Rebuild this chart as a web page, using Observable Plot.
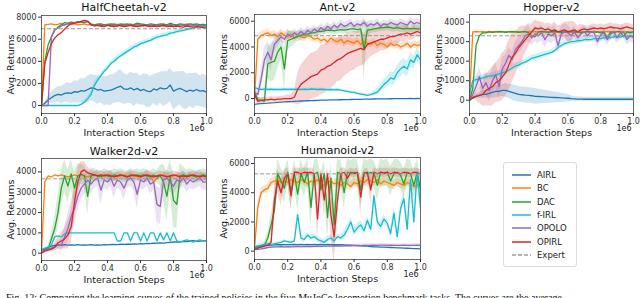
<!DOCTYPE html>
<html><head><meta charset="utf-8">
<script src="https://cdn.jsdelivr.net/npm/d3@7"></script>
<script src="https://cdn.jsdelivr.net/npm/@observablehq/plot@0.6"></script>
<style>
body{margin:0;background:#fff;}
#root{position:relative;width:640px;height:298px;overflow:hidden;background:#fff;font-family:"DejaVu Sans",sans-serif;}
.cell{position:absolute;}
.cell svg{overflow:visible;}
#legend{position:absolute;left:503px;top:162px;width:74px;height:105px;border:1px solid #dcdcdc;border-radius:3px;box-sizing:border-box;background:#fff;}
.li{position:absolute;left:0;height:12px;font-size:8.5px;color:#222;line-height:12px;}
.li svg{position:absolute;left:7px;top:0;}
.li span{position:absolute;left:33px;top:0;white-space:nowrap;}
#caption{position:absolute;left:6px;top:292px;font-family:"Liberation Serif",serif;font-size:10px;line-height:12px;white-space:nowrap;color:#111;}
</style>
</head><body>
<div id="root">
<div id="legend"></div>
<div id="caption">Fig. 12: Comparing the learning curves of the trained policies in the five MuJoCo locomotion benchmark tasks. The curves are the average</div>
</div>
<script>
const methods = ["AIRL","BC","DAC","f-IRL","OPOLO","OPIRL"];
const colors = ["#1f77b4","#ff7f0e","#2ca02c","#17becf","#9467bd","#d62728"];
const envNames = ["HalfCheetah-v2","Ant-v2","Hopper-v2","Walker2d-v2","Humanoid-v2"];
const expertReturns = [6950, 4880, 3300, 3660, 5290];
const xTicks = [0,0.2,0.4,0.6,0.8,1.0];
const yTicksHC = [0,2000,4000,6000,8000];
const yTicksAnt = [0,2000,4000,6000];
const yTicksHop = [0,1000,2000,3000,4000];
const yTicksWk = [0,1000,2000,3000,4000];
const yTicksHu = [0,2000,4000,6000];

// HalfCheetah
const hc_AIRL = [0,200,500,700,900,1000,950,1100,1150,1100, 1250,1200,1350,1300,1450,1600,1550,1400,1450,1300, 1350,1400,1500,1650,1750,1500,1450,1600,1400,1550, 1350,1450,1300,1250,1500,1400,1600,1500,1550,1850, 1300,1450,1550,1400,1250,1400,1300,1450,1300,1350, 1200];
const hc_AIRL_sd = [0,100,300,500,600,700,800,800,900,900, 1000,1000,1100,1100,1200,1200,1200,1300,1200,1300, 1300,1400,1300,1400,1500,1400,1300,1400,1500,1400, 1300,1400,1500,1400,1300,1500,1400,1600,1500,1500, 1700,1600,1500,1700,1600,1500,1600,1500,1400,1500, 1500];
const hc_BC = [0,7300,7350,7400,7300,7350,7450,7300,7400,7350, 7400,7300,7350,7400,7300,7350,7300,7400,7350,7300, 7350,7300,7400,7350,7300,7350,7300,7400,7300,7350, 7300,7350,7300,7250,7300,7350,7300,7400,7300,7350, 7300,7250,7350,7300,7400,7350,7300,7250,7300,7350, 7300];
const hc_DAC = [0,4000,5500,6200,6800,7100,7300,7500,7450,7550, 7500,7600,7550,7500,7600,7400,7300,7350,7400,7300, 7350,7400,7350,7300,7400,7350,7400,7300,7350,7450, 7400,7350,7300,7400,7350,7300,7400,7350,7300,7450, 7350,7300,7400,7350,7300,7400,7350,7400,7300,7350, 7300];
const hc_fIRL = [0,0,0,0,0,0,0,0,0,0, 0,0,100,300,600,1000,1800,2300,2700,3100, 3400,3800,4000,4300,4500,4700,4900,5100,5300,5400, 5600,5700,5800,5900,6050,6200,6250,6350,6400,6550, 6600,6700,6750,6800,6900,6950,7000,7100,7200,7150, 7100];
const hc_fIRL_sd = [0,0,0,0,0,0,0,0,0,0, 0,0,100,150,200,250,250,250,250,250, 250,250,250,250,250,250,250,250,250,250, 200,200,200,200,200,200,200,200,200,200, 200,200,200,200,200,200,200,200,200,200, 200];
const hc_OPOLO = [0,0,0,6200,6900,7000,7200,7300,7400,7450, 7500,7550,7600,7700,7650,7300,7250,7300,7200,7250, 7300,7200,7250,7300,7200,7250,7300,7250,7200,7300, 7250,7200,7300,7250,7200,7300,7250,7200,7250,7300, 7200,7250,7300,7250,7200,7300,7250,7300,7200,7250, 7200];
const hc_OPIRL = [0,3800,4800,5600,6100,6400,6600,6900,7200,7400, 7450,7500,7600,7700,7600,7300,7200,7250,7200,7150, 7250,7200,7150,7200,7250,7150,7200,7250,7200,7150, 7200,7250,7200,7150,7200,7150,7200,7250,7150,7200, 7150,7200,7150,7100,7200,7150,7100,7150,7100,7050, 7000];

// Ant
const ant_AIRL = [-450,-420,-400,-380,-360,-330,-320,-300,-280,-260, -250,-240,-220,-200,-190,-180,-170,-160,-150,-140, -130,-120,-115,-110,-105,-100,-95,-90,-80,-75, -70,-65,-60,-50,-45,-40,-35,-30,-25,-20, -20,-15,-10,-10,-5,0,0,5,0,5, 0];
const ant_BC = [0,4600,4900,5000,5100,4900,5000,4800,5100,4900, 4800,5000,4700,4900,4800,4700,4900,4800,4600,4700, 4500,4600,4400,4700,4500,4400,4600,4300,4500,4400, 4300,4500,4200,4400,4300,4200,4400,4100,4300,4200, 4000,4300,4100,4200,4000,4100,4300,4000,4200,4100, 4200];
const ant_BC_sd = [0,300,300,300,300,300,300,300,300,300, 300,300,300,300,300,300,300,300,300,300, 300,300,300,300,300,300,300,300,300,300, 300,300,300,300,300,300,300,300,300,300, 300,300,300,300,300,300,300,300,300,300, 300];
const ant_DAC = [500,-100,-150,-200,2700,2800,2900,3600,4000,2300, 4500,4600,4700,4800,4900,5000,5000,5100,5100,5200, 5200,5250,5300,5300,5250,5300,5350,5300,5350,5400, 5400,5350,5400,3800,5300,5350,5400,5450,5500,5500, 5550,5500,5450,5500,5450,5400,5450,5400,5450,5400, 5400];
const ant_DAC_sd = [300,200,200,300,1200,1500,1500,1300,1000,1600, 800,600,500,400,400,300,300,300,300,300, 300,300,300,300,300,300,300,300,300,300, 300,300,300,2300,600,300,300,300,300,300, 300,300,300,300,300,300,300,300,300,300, 300];
const ant_fIRL = [850,750,700,720,700,720,700,710,700,720, 700,720,700,720,700,720,700,740,720,700, 720,700,680,700,680,700,650,600,550,500, 480,400,350,300,250,300,400,500,800,1100, 1300,1600,1500,2000,2300,2500,2300,3000,2800,3400, 3000];
const ant_fIRL_sd = [100,100,100,100,100,100,100,100,100,100, 100,100,100,100,100,100,100,100,100,100, 100,100,100,100,100,100,100,100,100,100, 100,100,100,100,100,100,200,300,300,400, 400,500,500,500,600,600,600,600,500,500, 500];
const ant_OPOLO = [500,300,1500,3000,3600,3000,4200,4500,4800,4600, 5000,4800,5100,4900,5200,5000,5300,5100,5400,5200, 5500,5300,5600,5400,5700,5500,5800,5600,5700,5900, 5600,5800,5700,5900,5600,5800,5700,5900,5600,5800, 5700,5900,5800,5700,5900,5800,5700,6000,5800,5900, 5800];
const ant_OPOLO_sd = [200,300,800,1000,800,900,600,500,400,400, 400,300,300,300,300,300,300,300,300,300, 300,300,300,300,300,300,300,300,300,300, 300,300,300,300,300,300,300,300,300,300, 300,300,300,300,300,300,300,300,300,300, 300];
const ant_OPIRL = [300,-200,-150,-100,-100,-50,-100,-50,-50,0, 0,0,100,700,1100,1300,1500,1700,1800,1900, 2200,2300,2500,2600,2800,3000,3100,3300,3500,3600, 3700,3800,3900,3800,4200,4300,4400,4500,4600,4600, 4700,4800,4800,4900,5000,5000,5100,5000,5100,5200, 5100];
const ant_OPIRL_sd = [200,300,200,200,200,200,200,200,200,200, 300,300,500,1200,1500,1600,1700,1800,1800,1800, 1900,1900,1900,1800,1800,1700,1700,1600,1600,1500, 1500,1400,1400,1200,1200,1100,1000,1000,900,900, 800,800,700,700,600,600,500,500,500,400, 400];

// Hopper
const hop_AIRL = [0,100,200,250,300,300,350,400,450,450, 500,500,450,400,350,300,280,260,250,230, 200,190,180,170,160,150,140,130,120,110, 100,80,70,60,60,50,50,50,50,50, 50,50,50,50,50,50,50,50,50,50, 50];
const hop_AIRL_sd = [0,50,100,150,200,200,250,300,300,300, 300,350,350,400,400,400,400,400,400,400, 400,380,360,340,320,300,280,260,240,220, 200,150,120,100,100,100,100,100,100,100, 100,100,100,100,100,100,100,100,100,100, 100];
const hop_BC = [0,3500,3520,3500,3510,3500,3520,3500,3510,3500, 3520,3500,3510,3500,3520,3500,3510,3500,3520,3500, 3510,3500,3520,3500,3510,3500,3520,3500,3510,3500, 3520,3500,3510,3500,3520,3500,3510,3500,3520,3500, 3510,3500,3520,3500,3510,3500,3520,3500,3510,3500, 3500];
const hop_DAC = [0,600,2800,3300,3450,3450,3500,3480,3500,3520, 3500,3480,3500,3520,3500,3480,3500,3520,3450,3300, 3250,3500,3520,3500,3480,3500,3520,3500,3480,3500, 3520,3500,3480,3500,3450,3500,3520,3500,3480,3500, 3450,3500,3200,3500,3450,3520,3500,3250,3500,3450, 3500];
const hop_fIRL = [300,1000,1050,1100,1150,1200,1250,1250,1300,1350, 1400,1450,1550,1650,1750,1800,1900,1950,2050,2150, 2200,2250,2300,2350,2400,2450,2550,2700,2800,2900, 2950,3000,3000,3050,3050,3100,3100,3100,3150,3150, 3150,3200,3200,3200,3250,3250,3250,3300,3250,3300, 3300];
const hop_fIRL_sd = [100,150,150,150,150,150,150,150,150,150, 150,150,150,150,150,150,150,150,150,150, 150,150,150,150,150,150,150,150,150,150, 150,150,150,150,150,150,150,150,150,150, 150,150,150,150,150,150,150,150,150,150, 150];
const hop_OPOLO = [0,300,700,1200,600,900,500,1000,1300,700, 1600,1900,2300,2100,2600,2800,3000,3300,3400,3200, 3400,3300,3450,3100,3400,3300,3450,2800,3400,3500, 3450,3300,3500,3200,3400,3500,3300,3500,3450,3000, 3350,3450,3100,3400,3500,3200,3450,3500,3100,3300, 3200];
const hop_OPOLO_sd = [0,200,400,500,500,600,600,600,600,600, 600,400,400,400,400,400,400,400,400,400, 400,400,400,400,400,400,400,400,400,400, 400,300,300,300,300,300,300,300,300,300, 300,300,300,300,300,300,300,300,300,300, 300];
const hop_OPIRL = [0,150,200,250,300,500,600,700,900,1000, 1200,1400,1800,2200,2400,2700,2900,3100,3300,3500, 3700,3650,3700,3600,3650,3550,3600,3500,3550,3600, 3500,3550,3600,3500,3600,3650,3600,3650,3700,3650, 3700,3650,3700,3750,3700,3700,3650,3700,3750,3700, 3650];
const hop_OPIRL_sd = [0,100,200,400,600,800,900,1000,1000,1100, 1200,1200,1300,1300,1100,1000,900,700,600,400, 400,400,300,300,300,300,400,300,300,400, 500,500,400,300,300,200,200,200,200,200, 200,200,200,200,200,200,200,200,200,200, 200];

// Walker2d
const wk_AIRL = [100,200,300,350,380,400,400,420,400,410, 400,420,400,410,400,420,400,410,400,420, 410,420,430,420,440,430,450,440,460,450, 470,460,480,470,490,500,510,500,520,530, 550,560,550,580,570,600,620,580,600,620, 600];
const wk_BC = [0,3500,3800,3750,3850,3800,3850,3800,3750,3800, 3850,3800,3850,3800,3750,3800,3850,3800,3850,3800, 3800,3850,3800,3750,3800,3850,3800,3850,3800,3750, 3800,3850,3800,3750,3500,3700,3800,3850,3800,3750, 3800,3850,3800,3750,3800,3850,3800,3750,3800,3850, 3800];
const wk_DAC = [100,150,200,700,1200,2000,3200,3800,3300,3900, 3200,3800,3900,3800,2800,3800,3850,3800,3750,3850, 3800,3750,3850,3800,3850,3800,3750,3850,3800,3850, 3800,3850,3800,3750,3850,3750,3800,3500,2800,3800, 2600,2400,3800,3850,3800,3850,3800,3750,3800,3850, 3800];
const wk_DAC_sd = [50,50,100,300,600,800,900,800,800,700, 800,600,500,500,900,400,300,300,300,300, 300,300,300,300,300,300,300,300,300,300, 300,300,300,300,300,300,500,900,1200,800, 1300,1200,600,400,300,300,300,300,300,300, 300];
const wk_fIRL = [200,250,300,400,800,850,800,950,1000,1000, 1000,1000,1000,1000,1000,1000,1000,1000,1000,1000, 1000,1000,1000,600,600,1000,1000,600,1000,1000, 600,1000,600,1000,1000,600,1000,650,1000,600, 1000,600,550,600,650,600,550,600,650,600, 600];
const wk_OPOLO = [100,150,200,250,300,400,400,800,1200,1800, 2200,2800,3200,3400,3600,3400,3600,3700,3100,3600, 3500,3700,3300,3600,3500,3200,3600,3700,3500,2900, 3600,3500,3700,3400,3500,2400,2300,3600,3700,3500, 3300,3600,3500,3700,3400,3600,3500,3600,3700,3500, 3500];
const wk_OPOLO_sd = [50,50,100,100,100,200,300,500,700,800, 800,700,600,500,500,500,400,400,700,400, 400,400,600,400,400,600,400,400,400,700, 400,400,400,500,400,900,900,400,400,400, 500,400,400,400,400,400,400,400,400,400, 400];
const wk_OPIRL = [0,100,150,200,300,500,600,700,900,1300, 2500,3500,4000,4100,3950,3900,3850,3800,3850,3800, 3850,3800,3750,3800,3850,3800,3750,3800,3850,3800, 3750,3800,3850,3800,3750,3800,3850,3800,3750,3800, 3850,3800,3750,3800,3750,3800,3850,3800,3750,3800, 3750];
const wk_OPIRL_sd = [50,50,100,100,200,300,400,500,700,800, 800,700,500,400,300,200,200,200,200,200, 200,200,200,200,200,200,200,200,200,200, 200,200,200,200,200,200,200,200,200,200, 200,200,200,200,200,200,200,200,200,200, 200];

// Humanoid
const hu_AIRL = [300,350,380,400,400,420,430,440,440,450, 450,450,460,450,460,450,460,450,460,450, 460,450,460,450,440,450,440,430,420,410, 400,380,360,350,340,320,300,290,280,270, 260,250,240,230,220,210,200,190,180,170, 160];
const hu_BC = [200,3000,4000,4200,4300,4700,4800,4900,4700,4800, 4700,4900,4800,4700,4900,4800,4600,4800,4700,4900, 4600,4500,4700,4800,4600,4700,4500,4700,4600,4400, 4700,4600,4800,4700,4900,4800,4700,4900,4600,4800, 4700,4600,4500,4700,4600,4500,4700,4600,4400,4500, 4700];
const hu_BC_sd = [100,400,300,300,300,300,300,300,300,300, 300,300,300,300,300,300,300,300,300,300, 300,300,300,300,300,300,300,300,300,300, 300,300,300,300,300,300,300,300,300,300, 300,300,300,300,300,300,300,300,300,300, 300];
const hu_DAC = [200,250,300,400,900,1800,2800,5300,4800,4300, 5400,4000,5300,3900,5300,4700,5400,3000,5300,5400, 4200,5300,2300,5000,1800,5400,5300,4000,5400,5300, 5400,5300,4200,5400,5300,5400,5300,4500,5400,5300, 5400,4800,5300,5400,5200,4600,5400,5300,4500,5400, 4200];
const hu_DAC_sd = [50,50,100,200,400,700,900,1000,900,1000, 900,1000,900,1100,900,1000,900,1300,900,900, 1100,900,1500,1000,1500,900,900,1100,900,900, 900,900,1000,900,900,900,900,1000,900,900, 900,1000,900,900,900,1000,900,900,1000,900, 1000];
const hu_fIRL = [300,350,400,450,500,450,500,550,600,700, 650,600,700,2500,900,800,1100,900,1000,800, 700,600,800,900,700,1000,900,1100,1500,2000, 1300,1600,1800,1400,2100,1500,3800,2000,1700,2200, 1900,1200,2600,1000,2900,3600,1500,4900,2000,5400, 3000];
const hu_fIRL_sd = [100,100,100,100,100,100,100,100,100,100, 100,100,100,300,200,200,200,200,200,200, 200,200,200,200,200,200,200,300,300,300, 300,300,300,300,300,300,400,300,300,300, 300,300,400,300,400,400,300,500,400,500, 400];
const hu_OPOLO = [100,120,150,200,250,280,300,300,310,300, 310,300,310,320,310,320,330,320,330,340, 330,340,350,340,350,360,350,360,370,360, 380,390,380,400,390,400,410,400,420,410, 400,410,400,390,400,410,400,390,400,410, 400];
const hu_OPOLO_sd = [50,50,50,50,50,100,100,100,100,100, 100,100,100,100,100,100,100,100,100,100, 100,100,100,100,100,100,100,100,100,100, 100,100,100,100,100,100,100,100,100,100, 100,100,100,100,100,100,100,100,100,100, 100];
const hu_OPIRL = [100,200,300,350,400,600,3500,4800,4000,5000, 5300,3800,5400,5400,5300,5400,5350,5400,5300,2200, 5300,3500,5300,2500,1000,3500,5300,5400,5000,5400, 5300,5400,3700,5300,5400,4200,5400,5300,5400,5350, 5400,5300,5400,5350,5300,5400,5350,5300,5400,5350, 5300];
const hu_OPIRL_sd = [50,100,100,100,100,200,1000,800,900,600, 400,1000,300,300,300,300,300,300,300,1500, 300,1200,400,1500,1800,1500,400,300,500,300, 300,300,1200,300,300,1000,300,300,300,300, 300,300,300,300,300,300,300,300,300,300, 300];

const panels = [
  {name:envNames[0], expert:expertReturns[0], yticks:yTicksHC,
   vals:[hc_AIRL,hc_BC,hc_DAC,hc_fIRL,hc_OPOLO,hc_OPIRL],
   sds:[hc_AIRL_sd,null,null,hc_fIRL_sd,null,null],
   ydom:[-725,8150], left:0, top:0, w:210, h:140, ml:41, mr:4, mt:15, mb:27, tdy:-8.5},
  {name:envNames[1], expert:expertReturns[1], yticks:yTicksAnt,
   vals:[ant_AIRL,ant_BC,ant_DAC,ant_fIRL,ant_OPOLO,ant_OPIRL],
   sds:[null,ant_BC_sd,ant_DAC_sd,ant_fIRL_sd,ant_OPOLO_sd,ant_OPIRL_sd],
   ydom:[-1160,6520], left:212, top:0, w:212, h:140, ml:42, mr:4, mt:14, mb:27, tdy:-7.5},
  {name:envNames[2], expert:expertReturns[2], yticks:yTicksHop,
   vals:[hop_AIRL,hop_BC,hop_DAC,hop_fIRL,hop_OPOLO,hop_OPIRL],
   sds:[hop_AIRL_sd,null,null,hop_fIRL_sd,hop_OPOLO_sd,hop_OPIRL_sd],
   ydom:[-680,4390], left:424, top:0, w:216, h:140, ml:45, mr:7, mt:14, mb:27, tdy:-7.5},
  {name:envNames[3], expert:expertReturns[3], yticks:yTicksWk,
   vals:[wk_AIRL,wk_BC,wk_DAC,wk_fIRL,wk_OPOLO,wk_OPIRL],
   sds:[null,null,wk_DAC_sd,null,wk_OPOLO_sd,wk_OPIRL_sd],
   ydom:[-360,4660], left:0, top:140, w:210, h:158, ml:41, mr:4, mt:18, mb:38, tdy:-7},
  {name:envNames[4], expert:expertReturns[4], yticks:yTicksHu,
   vals:[hu_AIRL,hu_BC,hu_DAC,hu_fIRL,hu_OPOLO,hu_OPIRL],
   sds:[null,hu_BC_sd,hu_DAC_sd,hu_fIRL_sd,hu_OPOLO_sd,hu_OPIRL_sd],
   ydom:[-570,6410], left:212, top:140, w:212, h:158, ml:42, mr:4, mt:17, mb:39, tdy:-7}
];

function panel(cfg){
  const rows=[], bands=[];
  methods.forEach((m,k)=>{
    const v=cfg.vals[k], s=cfg.sds[k];
    v.forEach((y,i)=>{
      const x=i/(v.length-1);
      rows.push({m,x,y});
      if(s) bands.push({m,x,lo:y-s[i],hi:y+s[i]});
    });
  });
  return Plot.plot({
    width:cfg.w, height:cfg.h,
    marginLeft:cfg.ml, marginRight:cfg.mr, marginTop:cfg.mt, marginBottom:cfg.mb,
    style:{fontFamily:"DejaVu Sans", fontSize:"8px", color:"#333", background:"transparent", overflow:"visible"},
    x:{domain:[0,1]},
    y:{domain:cfg.ydom},
    color:{domain:methods, range:colors},
    marks:[
      Plot.areaY(bands,{x:"x",y1:"lo",y2:"hi",fill:"m",z:"m",fillOpacity:0.2,clip:true}),
      Plot.lineY(rows,{x:"x",y:"y",stroke:"m",z:"m",strokeWidth:1.3,clip:true}),
      Plot.ruleY([cfg.expert],{stroke:"#999",strokeWidth:1,strokeDasharray:"4,2"}),
      Plot.frame({stroke:"#444",strokeWidth:0.8}),
      Plot.axisX({ticks:xTicks,tickFormat:d3.format(".1f"),tickSize:3,tickPadding:1.5,label:null,fontSize:8}),
      Plot.axisY({ticks:cfg.yticks,tickFormat:d=>String(d),tickSize:3,tickPadding:2,label:null,fontSize:8}),
      Plot.text([cfg.name],{text:d=>d,frameAnchor:"top",lineAnchor:"middle",textAnchor:"middle",dy:cfg.tdy,fontSize:11,fill:"#111"}),
      Plot.text(["Avg. Returns"],{text:d=>d,frameAnchor:"left",lineAnchor:"middle",textAnchor:"middle",dx:-31,rotate:-90,fontSize:9.5,fill:"#222"}),
      Plot.text(["Interaction Steps"],{text:d=>d,frameAnchor:"bottom",lineAnchor:"middle",textAnchor:"middle",dy:19,fontSize:9.5,fill:"#222"}),
      Plot.text(["1e6"],{text:d=>d,frameAnchor:"bottom-right",lineAnchor:"middle",textAnchor:"end",dy:15,dx:-2,fontSize:8,fill:"#222"})
    ]
  });
}

const root=document.getElementById("root");
panels.forEach(cfg=>{
  const div=document.createElement("div");
  div.className="cell";
  div.style.left=cfg.left+"px";
  div.style.top=cfg.top+"px";
  div.appendChild(panel(cfg));
  root.insertBefore(div, document.getElementById("legend"));
});

const legend=document.getElementById("legend");
const items=methods.map((m,i)=>({label:m,color:colors[i],dash:null})).concat([{label:"Expert",color:"#999",dash:"4,2"}]);
items.forEach((it,k)=>{
  const d=document.createElement("div");
  d.className="li";
  d.style.top=(6+k*13.3)+"px";
  d.style.width="72px";
  d.innerHTML=`<svg width="22" height="12"><line x1="1" x2="20" y1="6" y2="6" stroke="${it.color}" stroke-width="1.5" ${it.dash?`stroke-dasharray="${it.dash}"`:""}/></svg><span>${it.label}</span>`;
  legend.appendChild(d);
});
</script>
</body></html>
